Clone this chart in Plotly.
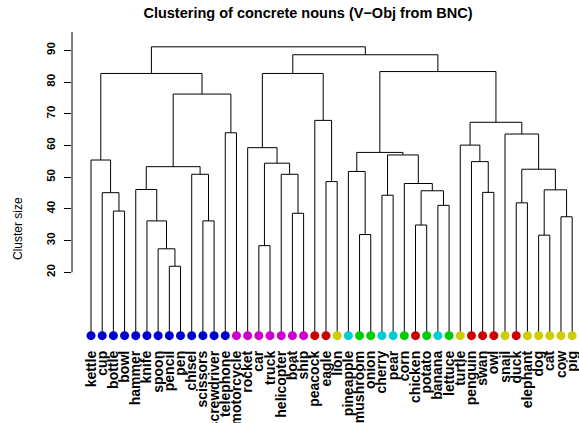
import plotly.graph_objects as go

# ---- data ----
leaf_labels = ["kettle", "cup", "bottle", "bowl", "hammer", "knife", "spoon", "pencil",
               "pen", "chisel", "scissors", "screwdriver", "telephone", "motorcycle",
               "rocket", "car", "truck", "helicopter", "boat", "ship", "peacock", "eagle",
               "lion", "pineapple", "mushroom", "onion", "cherry", "pear", "corn",
               "chicken", "potato", "banana", "lettuce", "turtle", "penguin", "swan",
               "owl", "snail", "duck", "elephant", "dog", "cat", "cow", "pig"]

leaf_groups = ["tool"] * 13 + ["vehicle"] * 7 + ["bird", "bird", "animal", "fruit",
               "veg", "veg", "fruit", "fruit", "veg", "bird", "veg", "fruit", "veg",
               "animal", "bird", "bird", "bird", "animal", "bird", "animal", "animal",
               "animal", "animal", "animal"]

group_colors = {"tool": "#0000CD", "vehicle": "#CD00CD", "bird": "#CD0000",
                "animal": "#CDCD00", "fruit": "#00CDCD", "veg": "#00CD00"}

# merges: (left child, right child, height); str = leaf, int = earlier merge index
merge_left = ["pencil", "spoon", "knife", "hammer", "scissors", "chisel", 3, "telephone",
              6, "bottle", "cup", "kettle", 11, "car", "boat", "helicopter", 13, "rocket",
              "eagle", "peacock", 17, "mushroom", "pineapple", "cherry", "chicken",
              "banana", 24, "corn", 23, 22, "swan", "penguin", "turtle", "duck", "dog",
              "cow", 34, 33, "snail", 32, 29, 20, 12]
merge_right = ["pen", 0, 1, 2, "screwdriver", 4, 5, "motorcycle", 7, "bowl", 9, 10, 8,
               "truck", "ship", 14, 15, 16, "lion", 18, 19, "onion", 21, "pear", "potato",
               "lettuce", 25, 26, 27, 28, "owl", 30, 31, "elephant", "cat", "pig", 35, 36,
               37, 38, 39, 40, 41]
merge_height = [21.9, 27.4, 36.2, 46.1, 36.2, 50.9, 53.3, 64.0, 76.2, 39.3, 45.1, 55.4,
                82.7, 28.4, 38.6, 50.9, 54.4, 59.3, 48.6, 67.9, 82.7, 31.9, 51.8, 44.3,
                34.9, 41.1, 45.7, 48.0, 57.0, 57.8, 45.2, 54.9, 60.1, 41.9, 31.7, 37.5,
                46.0, 52.5, 63.6, 67.3, 83.3, 88.6, 91.1]

y_ticks = [20, 30, 40, 50, 60, 70, 80, 90]

# ---- build dendrogram segments ----
leaf_x = {name: i + 1 for i, name in enumerate(leaf_labels)}
node_x, node_h = [], []
xs, ys = [], []


def child_pos(c):
    if isinstance(c, str):
        return leaf_x[c], 0.0
    return node_x[c], node_h[c]


for a, b, h in zip(merge_left, merge_right, merge_height):
    xa, ha = child_pos(a)
    xb, hb = child_pos(b)
    xs += [xa, xa, xb, xb, None]
    ys += [ha, h, h, hb, None]
    node_x.append((xa + xb) / 2)
    node_h.append(h)

fig = go.Figure()
fig.add_trace(go.Scatter(x=xs, y=ys, mode="lines",
                         line=dict(color="black", width=1), hoverinfo="skip",
                         showlegend=False, cliponaxis=False))
fig.add_trace(go.Scatter(x=list(range(1, len(leaf_labels) + 1)),
                         y=[0] * len(leaf_labels), mode="markers",
                         marker=dict(size=9, color=[group_colors[g] for g in leaf_groups],
                                     line=dict(width=0)),
                         showlegend=False, cliponaxis=False))

# y axis line (drawn like R's axis)
fig.add_shape(type="line", xref="paper", yref="y", x0=0, x1=0, y0=y_ticks[0], y1=95.8,
              line=dict(color="black", width=1))

W, H = 579, 423
ml, mr, mt, mb = 72, 0, 31, 83
font_family = "Liberation Sans, Arial, sans-serif"

fig.update_layout(
    width=W, height=H,
    margin=dict(l=ml, r=mr, t=mt, b=mb, pad=0, autoexpand=False),
    plot_bgcolor="white", paper_bgcolor="white",
    font=dict(family=font_family, color="black"),
    title=dict(text="Clustering of concrete nouns (V\u2212Obj from BNC)",
               x=308 / W, y=1 - 13 / H, xanchor="center", yanchor="middle",
               xref="container", yref="container", automargin=False,
               font=dict(size=14.5, weight="bold", family=font_family, color="black")),
    xaxis=dict(range=[-0.698, 44.61], tickmode="array", automargin=False,
               tickvals=list(range(1, len(leaf_labels) + 1)), ticktext=leaf_labels,
               tickangle=-90, showgrid=False, zeroline=False, showline=False,
               ticks="", ticklabelstandoff=7, ticklabeloverflow="allow",
               tickfont=dict(size=14, weight="bold", family=font_family, color="black")),
    yaxis=dict(range=[-1.36, 96.09], tickmode="array", tickvals=y_ticks, automargin=False,
               ticktext=[str(v) for v in y_ticks], tickangle=-90,
               showgrid=False, zeroline=False, showline=False,
               ticks="outside", ticklen=7, tickcolor="black", tickwidth=1,
               ticklabelstandoff=4,
               tickfont=dict(size=11.5, weight="bold", family=font_family, color="black")),
    annotations=[dict(text="Cluster size", xref="paper", yref="paper",
                      x=(18 - ml) / (W - ml - mr), y=(H - mb - 229) / (H - mt - mb),
                      xanchor="center", yanchor="middle", textangle=-90, showarrow=False,
                      font=dict(size=12, family=font_family, color="black"))],
)

fig.write_html("out.html",
               config={"displayModeBar": False, "responsive": False},
               post_script="document.body.style.margin='0';"
                           "document.body.style.padding='0';"
                           "document.body.style.overflow='hidden';"
                           "document.documentElement.style.overflow='hidden';")
